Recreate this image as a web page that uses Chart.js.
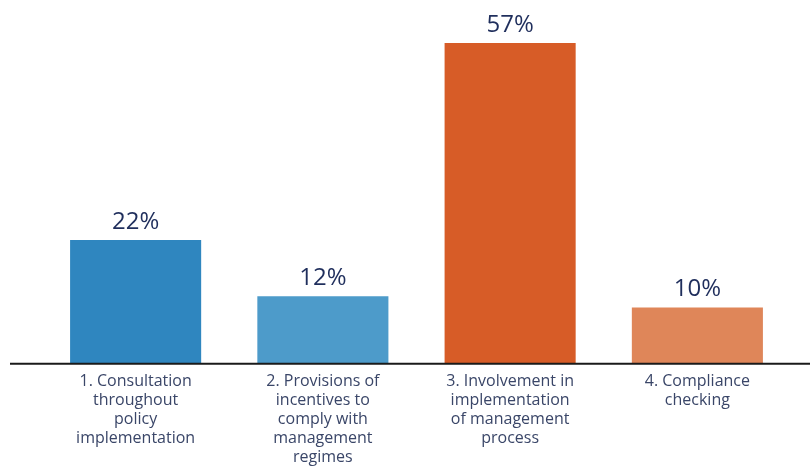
<!DOCTYPE html>
<html>
<head>
<meta charset="utf-8">
<script src="https://cdn.jsdelivr.net/npm/chart.js@4"></script>
<style>
  html, body { margin: 0; padding: 0; background: #ffffff; }
  #wrap { width: 810px; height: 466px; }
</style>
</head>
<body>
<div id="wrap"><canvas id="chart" width="810" height="466"></canvas></div>
<script>
// Category labels (one array per wrapped line set) and shares in percent
const categories = [
    ['1. Consultation', 'throughout', 'policy', 'implementation'],
    ['2. Provisions of', 'incentives to', 'comply with', 'management', 'regimes'],
    ['3. Involvement in', 'implementation', 'of management', 'process'],
    ['4. Compliance', 'checking']
];
const shares = [22, 12, 57, 10];
const barColors = ['#2f86bf', '#4d9bca', '#d75c27', '#df8659'];

// Value labels above each bar
const valueLabels = {
    id: 'valueLabels',
    afterDatasetsDraw(chart) {
        const ctx = chart.ctx;
        const meta = chart.getDatasetMeta(0);
        ctx.save();
        ctx.font = '24px "Open Sans", sans-serif';
        ctx.fillStyle = '#1f2e5c';
        ctx.textAlign = 'center';
        ctx.textBaseline = 'bottom';
        meta.data.forEach((bar, i) => {
            ctx.fillText(shares[i] + '%', bar.x, bar.y - 6);
        });
        ctx.restore();
    }
};

// Baseline across the full width
const baseline = {
    id: 'baseline',
    afterDatasetsDraw(chart) {
        const ctx = chart.ctx;
        const y = chart.scales.y.getPixelForValue(0);
        ctx.save();
        ctx.strokeStyle = '#1a1a1a';
        ctx.lineWidth = 2;
        ctx.beginPath();
        ctx.moveTo(10, y);
        ctx.lineTo(chart.width, y);
        ctx.stroke();
        ctx.restore();
    }
};

new Chart(document.getElementById('chart'), {
    type: 'bar',
    data: {
        labels: categories,
        datasets: [{
            data: shares,
            backgroundColor: barColors,
            borderWidth: 0,
            barPercentage: 1,
            categoryPercentage: 0.7
        }]
    },
    options: {
        responsive: false,
        animation: false,
        layout: { padding: { left: 42, right: 19, top: 26, bottom: -1 } },
        plugins: {
            legend: { display: false },
            tooltip: { enabled: false }
        },
        scales: {
            y: {
                display: false,
                min: 0,
                max: 60
            },
            x: {
                grid: { display: false },
                border: { display: false },
                ticks: {
                    color: '#3a4668',
                    padding: 0,
                    maxRotation: 0,
                    autoSkip: false,
                    font: { family: '"Open Sans", sans-serif', size: 16, lineHeight: 1.19 }
                }
            }
        }
    },
    plugins: [valueLabels, baseline]
});
</script>
</body>
</html>
